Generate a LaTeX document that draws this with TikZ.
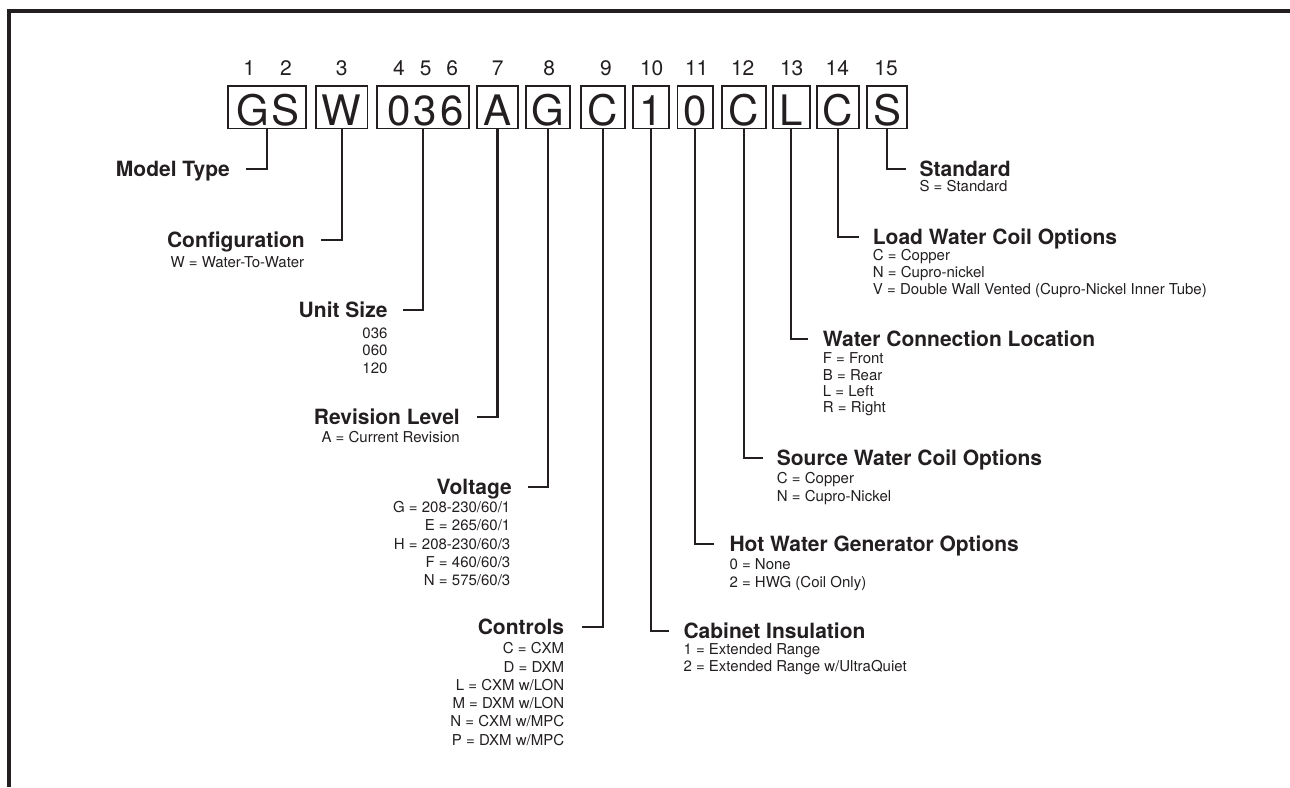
\documentclass[tikz,border=0pt]{standalone}
\usepackage{fontspec}
\setmainfont{TeX Gyre Heros}
\definecolor{ink}{RGB}{35,31,32}
\begin{document}
\begin{tikzpicture}[x=1pt,y=-1pt,
  cbox/.style={draw=ink, line width=1.8pt, minimum height=42.5pt, inner sep=0pt},
  glyph/.style={font=\fontsize{42}{42}\selectfont, text=ink, inner sep=0pt, anchor=base},
  posnum/.style={font=\fontsize{21}{21}\selectfont, text=ink, inner sep=0pt, anchor=base},
  ttl/.style={font=\bfseries\fontsize{21}{21}\selectfont, text=ink, inner sep=0pt, text height=15.1pt, text depth=0pt},
  sub/.style={font=\fontsize{15}{15}\selectfont, text=ink, inner sep=0pt},
  conn/.style={draw=ink, line width=2.2pt},
  frame/.style={draw=ink, line width=4.4pt, line join=miter}]
\useasboundingbox (0,0) rectangle (1290,787);
% frame
\draw[frame] (9,787) -- (9,10.7) -- (1290,10.7);

% position numbers
\foreach \n/\x in {1/249.3, 2/286, 3/341.7, 4/399, 5/425.7, 6/452.3, 7/497.7, 8/549.3, 9/606, 10/651.7, 11/696.7, 12/742.7, 13/791.7, 14/837.3, 15/886}
  \node[posnum] (n\n) at (\x,75) {\n};

% boxes
\node[cbox, minimum width=78pt] (b1) at (267.3,107.2) {};
\node[cbox, minimum width=51.5pt] (b2) at (341.75,107.2) {};
\node[cbox, minimum width=92.3pt] (b3) at (422.85,107.2) {};
\node[cbox, minimum width=41pt] (b4) at (497.5,107.2) {};
\node[cbox, minimum width=44pt] (b5) at (548,107.2) {};
\node[cbox, minimum width=44pt] (b6) at (603,107.2) {};
\node[cbox, minimum width=36pt] (b7) at (651,107.2) {};
\node[cbox, minimum width=35.5pt] (b8) at (695.25,107.2) {};
\node[cbox, minimum width=44pt] (b9) at (743.7,107.2) {};
\node[cbox, minimum width=37pt] (b10) at (791.2,107.2) {};
\node[cbox, minimum width=42pt] (b11) at (838,107.2) {};
\node[cbox, minimum width=40.3pt] (b12) at (887.15,107.2) {};

% letters
\node[glyph] (g1) at (268,125) {G\hspace{3pt}S};
\node[glyph] (g2) at (341.75,125) {W};
\node[glyph] (g3) at (425.5,125) {0\hspace{3pt}3\hspace{3pt}6};
\node[glyph] (g4) at (497.5,125) {A};
\node[glyph] (g5) at (548,125) {G};
\node[glyph] (g6) at (603,125) {C};
\node[glyph] (g7) at (651,125) {1};
\node[glyph] (g8) at (695.25,125) {0};
\node[glyph] (g9) at (743.7,125) {C};
\node[glyph] (g10) at (791.2,125) {L};
\node[glyph] (g11) at (838,125) {C};
\node[glyph] (g12) at (887.15,125) {S};

% connector ends
\coordinate (e1) at (245.7,169.3);
\coordinate (e2) at (320.7,240);
\coordinate (e3) at (403.3,310);
\coordinate (e4) at (476.7,416.7);
\coordinate (e5) at (528,487);
\coordinate (e6) at (582.3,626.7);
\coordinate (e7) at (669.3,630.7);
\coordinate (e8) at (714.3,544.3);
\coordinate (e9) at (762.7,458.3);
\coordinate (e10) at (808.3,339);
\coordinate (e11) at (859.3,236.7);
\coordinate (e12) at (906,169.3);
\foreach \i in {1,...,12}
  \draw[conn] (b\i.south) |- (e\i);

% titles
\node[ttl, anchor=east] (t1) at (230,169.3) {Model Type};
\node[ttl, anchor=east] (t2) at (305,240) {Configuration};
\node[ttl, anchor=east] (t3) at (387.7,310) {Unit Size};
\node[ttl, anchor=east] (t4) at (460,416.7) {Revision Level};
\node[ttl, anchor=east] (t5) at (512,487) {Voltage};
\node[ttl, anchor=east] (t6) at (564.3,626.7) {Controls};
\node[ttl, anchor=west] (t7) at (683.3,630.7) {Cabinet Insulation};
\node[ttl, anchor=west] (t8) at (729.3,544.3) {Hot Water Generator Options};
\node[ttl, anchor=west] (t9) at (776.7,458.3) {Source Water Coil Options};
\node[ttl, anchor=west] (t10) at (822.7,339) {Water Connection Location};
\node[ttl, anchor=west] (t11) at (872.7,236.7) {Load Water Coil Options};
\node[ttl, anchor=west] (t12) at (919.3,169.3) {Standard};

% option lines
\node[sub, anchor=base east] (s2) at (304.3,267.4) {W = Water-To-Water};
\foreach \t [count=\i] in {036, 060, 120}
  \node[sub, anchor=base east] (s3-\i) at (387.7,{332.7+5.4+(\i-1)*17.5}) {\t};
\node[sub, anchor=base east] (s4) at (460,442.4) {A = Current Revision};
\foreach \t [count=\i] in {G = 208-230/60/1, E = 265/60/1, H = 208-230/60/3, F = 460/60/3, N = 575/60/3}
  \node[sub, anchor=base east] (s5-\i) at (510.5,{507.3+5.4+(\i-1)*18.2}) {\t};
\foreach \t [count=\i] in {C = CXM, D = DXM, L = CXM w/LON, M = DXM w/LON, N = CXM w/MPC, P = DXM w/MPC}
  \node[sub, anchor=base east] (s6-\i) at (564.3,{648.3+5.4+(\i-1)*18.3}) {\t};
\foreach \t [count=\i] in {1 = Extended Range, 2 = Extended Range w/UltraQuiet}
  \node[sub, anchor=base west] (s7-\i) at (683.3,{649+5.4+(\i-1)*16.7}) {\t};
\foreach \t [count=\i] in {0 = None, 2 = HWG (Coil Only)}
  \node[sub, anchor=base west] (s8-\i) at (729.3,{564+5.4+(\i-1)*18.3}) {\t};
\foreach \t [count=\i] in {C = Copper, N = Cupro-Nickel}
  \node[sub, anchor=base west] (s9-\i) at (776.7,{478.3+5.4+(\i-1)*17.7}) {\t};
\foreach \t [count=\i] in {F = Front, B = Rear, L = Left, R = Right}
  \node[sub, anchor=base west] (s10-\i) at (822.7,{358.3+5.4+(\i-1)*16.4}) {\t};
\foreach \t [count=\i] in {C = Copper, N = Cupro-nickel, V = Double Wall Vented (Cupro-Nickel Inner Tube)}
  \node[sub, anchor=base west] (s11-\i) at (872.7,{255+5.4+(\i-1)*17}) {\t};
\node[sub, anchor=base west] (s12) at (919.3,191.1) {S = Standard};
\end{tikzpicture}
\end{document}
